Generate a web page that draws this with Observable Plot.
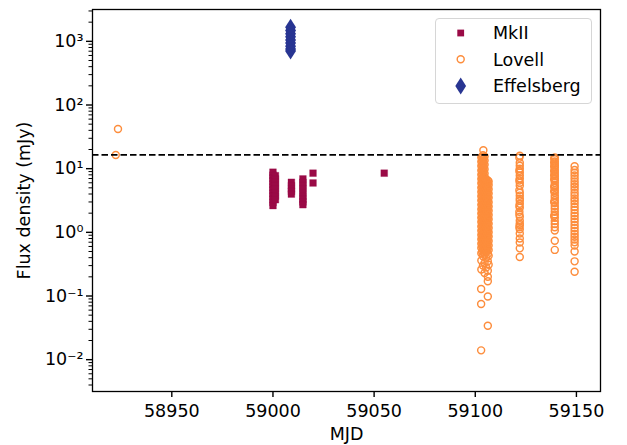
<!DOCTYPE html>
<html>
<head>
<meta charset="utf-8">
<script src="https://cdn.jsdelivr.net/npm/d3@7"></script>
<script src="https://cdn.jsdelivr.net/npm/@observablehq/plot@0.6"></script>
<style>
  body { margin: 0; background: #fff; }
  #wrap { position: relative; width: 627px; height: 445px; font-family: "DejaVu Sans", sans-serif; }
  #legend { position: absolute; left: 0; top: 0; pointer-events: none; }
</style>
</head>
<body>
<div id="wrap"></div>
<script>
// ---------------- data ----------------
const xTicks = [58950, 59000, 59050, 59100, 59150];
const yTickValues = [0.01, 0.1, 1, 10, 100, 1000];
const yTickLabels = ["10\u207B\u00B2", "10\u207B\u00B9", "10\u2070", "10\u00B9", "10\u00B2", "10\u00B3"];
const threshold = 16.5; // dashed line (mJy)

// MkII : [MJD, [flux values]]
const mkiiEpochs = [
  [59000.0, [8.8, 7.9, 7.1, 6.4, 5.7, 5.1, 4.6, 4.1, 3.7, 3.3, 2.95, 2.63]],
  [59001.2, [7.76, 6.9, 6.1, 5.4, 4.8, 4.2, 3.7, 3.26]],
  [59009.1, [6.1, 5.4, 4.8, 4.4, 3.99]],
  [59014.8, [6.9, 6.1, 5.4, 4.8, 4.2, 3.7, 3.3, 3.0, 2.72]],
  [59019.8, [8.5, 5.96]],
  [59055.0, [8.5]]
];

// Effelsberg
const effelsbergEpochs = [
  [59008.7, [1670, 1480, 1320, 1180, 1050, 940, 840, 760, 702]]
];

// Lovell
const lovell58922 = [
  [58923.4, [42]],
  [58922.3, [16.4]]
];
const lovell59103 = [
  [59102.9, [0.014, 0.075, 0.129]],
  [59103.0, [0.26, 0.36, 0.47, 0.57, 0.66, 0.78, 0.91, 1.06, 1.24, 1.45, 1.7, 1.98, 2.3, 2.7, 3.15, 3.7, 4.3, 5.0, 5.9, 6.9, 8.0, 9.4, 11.0, 12.8, 15.0]],
  [59103.4, [0.5, 0.6, 0.69, 0.8, 0.93, 1.09, 1.27, 1.48, 1.73, 2.02, 2.36, 2.76, 3.22, 3.76, 4.4, 5.15, 6.0, 7.0, 8.2, 9.6, 11.2, 13.1, 15.3]],
  [59103.8, [0.3, 0.42, 0.53, 0.62, 0.72, 0.84, 0.98, 1.15, 1.34, 1.57, 1.83, 2.14, 2.5, 2.9, 3.4, 4.0, 4.65, 5.4, 6.4, 7.4, 8.7, 10.2, 11.9, 13.9, 16.2]],
  [59104.0, [19.5]],
  [59104.2, [0.48, 0.55, 0.64, 0.75, 0.88, 1.02, 1.2, 1.4, 1.63, 1.9, 2.22, 2.6, 3.05, 3.55, 4.15, 4.85, 5.7, 6.65, 7.8, 9.1, 10.6, 12.4, 14.5]],
  [59104.6, [0.23, 0.33, 0.45, 0.51, 0.6, 0.7, 0.81, 0.95, 1.11, 1.3, 1.52, 1.77, 2.07, 2.42, 2.83, 3.3, 3.85, 4.5, 5.25, 6.15, 7.2, 8.4, 9.8, 11.5, 13.4, 15.6]],
  [59105.0, [0.52, 0.59, 0.69, 0.81, 0.94, 1.1, 1.29, 1.5, 1.76, 2.05, 2.4, 2.8, 3.28, 3.83, 4.48, 5.2, 6.1, 7.1]],
  [59105.4, [0.28, 0.4, 0.5, 0.55, 0.64, 0.75, 0.87, 1.02, 1.19, 1.39, 1.62, 1.9, 2.22, 2.6, 3.03, 3.55, 4.15, 4.85, 5.65, 6.6]],
  [59105.8, [0.5, 0.6, 0.7, 0.82, 0.96, 1.12, 1.31, 1.53, 1.79, 2.09, 2.44, 2.85, 3.33, 3.9, 4.55, 5.3, 6.2]],
  [59106.2, [0.034, 0.098, 0.17, 0.2, 0.25, 0.35, 0.46, 0.56, 0.66, 0.77, 0.9, 1.05, 1.22, 1.43, 1.67, 1.95, 2.28, 2.66, 3.1, 3.63, 4.25, 4.95, 5.8, 6.5]],
  [59106.6, [0.31, 0.43, 0.53, 0.62, 0.73, 0.86, 1.0, 1.17, 1.37, 1.6, 1.87, 2.18, 2.55, 2.98, 3.48, 4.07, 4.75, 5.55, 6.3]]
];
const lovell59122 = [
  [59122.0, [16, 12.4, 11.1, 10, 8.7, 7.8, 7.0, 6.0, 5.4, 4.2, 3.77, 3.38, 3.14, 2.82, 2.44, 1.76, 1.52, 1.36, 1.29, 1.12, 0.96, 0.8, 0.69, 0.56, 0.41]],
  [59121.8, [14.9, 9.3, 6.5, 4.6, 2.6, 2.1, 1.9, 1.2]]
];
const lovell59139 = [
  [59139.3, [15, 14, 13, 12, 11.2, 10.4, 9.6, 8.9, 8.2, 7.6, 7.0, 6.5, 6.0, 5.5, 5.0, 4.6, 4.2, 3.8, 3.5, 3.2, 2.9, 2.6, 2.35, 2.1, 1.9, 1.7, 1.5, 1.35, 1.2, 1.07, 0.74, 0.53]],
  [59139.0, [14.5, 12.5, 10.8, 9.2, 7.9, 6.8, 5.2, 4.4, 3.0, 1.8]]
];
const lovell59149 = [
  [59149.1, [10.9, 9.5, 8.6, 7.8, 7.0, 6.3, 5.7, 5.2, 4.7, 4.2, 3.8, 3.4, 3.1, 2.8, 2.5, 2.25, 2.0, 1.8, 1.62, 1.46, 1.3, 1.17, 1.05, 0.94, 0.85, 0.77, 0.7, 0.62, 0.5, 0.35, 0.24]]
];

// ---------------- build tables ----------------
const flat = (epochs) => epochs.flatMap(([mjd, vals]) => vals.map(v => ({mjd, flux: v})));
const mkii = flat(mkiiEpochs);
const effelsberg = flat(effelsbergEpochs);
const lovell = [lovell58922, lovell59103, lovell59122, lovell59139, lovell59149].flatMap(flat);

const colMkII = "#9a0a46";
const colLovell = "#fd8d3c";
const colEff = "#283592";

// custom marker shapes (matplotlib "s" and "d")
const squareSym = { draw(ctx, size) { const r = Math.sqrt(size / Math.PI); ctx.rect(-r, -r, 2 * r, 2 * r); } };
const thinDiamond = { draw(ctx, size) { const r = Math.sqrt(size / Math.PI); ctx.moveTo(0, -r); ctx.lineTo(0.64 * r, 0); ctx.lineTo(0, r); ctx.lineTo(-0.64 * r, 0); ctx.closePath(); } };

// log minor ticks
const yDomain = [Math.pow(10, -2.5), Math.pow(10, 3.5)];
const minorTicks = [];
for (let e = -3; e <= 3; e++) for (let m = 2; m <= 9; m++) {
  const v = m * Math.pow(10, e);
  if (v >= yDomain[0] && v <= yDomain[1]) minorTicks.push(v);
}

const chart = Plot.plot({
  width: 627,
  height: 445,
  marginLeft: 92,
  marginRight: 27,
  marginTop: 9,
  marginBottom: 54,
  style: { fontFamily: "DejaVu Sans", fontSize: "17.5px", color: "#000", background: "#fff" },
  x: { domain: [58910.8, 59161.9] },
  y: { type: "log", domain: yDomain },
  marks: [
    Plot.dot(mkii, { x: "mjd", y: "flux", symbol: squareSym, r: 3.4, fill: colMkII, stroke: colMkII, strokeWidth: 0.3 }),
    Plot.dot(lovell, { x: "mjd", y: "flux", symbol: "circle", r: 3.5, fill: "none", stroke: colLovell, strokeWidth: 1.45 }),
    Plot.dot(effelsberg, { x: "mjd", y: "flux", symbol: thinDiamond, r: 8.5, fill: colEff }),
    Plot.ruleY([threshold], { stroke: "#000", strokeWidth: 1.8, strokeDasharray: "6.5,3" }),
    Plot.axisX({ ticks: xTicks, tickSize: 6, tickPadding: 7, tickFormat: d => String(d), label: null, strokeWidth: 1.4 }),
    Plot.axisY({ ticks: yTickValues, tickSize: 6, tickPadding: 3, tickFormat: d => yTickLabels[yTickValues.indexOf(d)], label: null, strokeWidth: 1.4 }),
    Plot.axisY({ ticks: minorTicks, tickSize: 3.5, tickFormat: () => "", label: null, strokeWidth: 1 }),
    Plot.text(["MJD"], { frameAnchor: "bottom", dy: 48, lineAnchor: "bottom", fontSize: 17.5 }),
    Plot.text(["Flux density (mJy)"], { frameAnchor: "left", dx: -62.5, rotate: -90, lineAnchor: "bottom", textAnchor: "middle", fontSize: 17.5 }),
    Plot.frame({ stroke: "#000", strokeWidth: 1.3 })
  ]
});

const wrap = document.getElementById("wrap");
wrap.appendChild(chart);

// legend overlay
const legendItems = [
  { name: "MkII", color: colMkII, kind: "square" },
  { name: "Lovell", color: colLovell, kind: "circle" },
  { name: "Effelsberg", color: colEff, kind: "diamond" }
];
const ns = "http://www.w3.org/2000/svg";
const lg = document.createElementNS(ns, "svg");
lg.setAttribute("id", "legend");
lg.setAttribute("width", 627);
lg.setAttribute("height", 445);
const box = document.createElementNS(ns, "rect");
box.setAttribute("x", 435.5); box.setAttribute("y", 18.5);
box.setAttribute("width", 156); box.setAttribute("height", 85);
box.setAttribute("rx", 3.5);
box.setAttribute("fill", "rgba(255,255,255,0.8)");
box.setAttribute("stroke", "#d6d6d6");
lg.appendChild(box);
const rowY = [33, 59.3, 86];
legendItems.forEach((it, i) => {
  const cy = rowY[i], cx = 460.7;
  let shape;
  if (it.kind === "square") {
    shape = document.createElementNS(ns, "rect");
    shape.setAttribute("x", cx - 3.4); shape.setAttribute("y", cy - 3.4);
    shape.setAttribute("width", 6.8); shape.setAttribute("height", 6.8);
    shape.setAttribute("fill", it.color);
  } else if (it.kind === "circle") {
    shape = document.createElementNS(ns, "circle");
    shape.setAttribute("cx", cx); shape.setAttribute("cy", cy); shape.setAttribute("r", 3.5);
    shape.setAttribute("fill", "none"); shape.setAttribute("stroke", it.color); shape.setAttribute("stroke-width", 1.45);
  } else {
    shape = document.createElementNS(ns, "path");
    shape.setAttribute("d", `M${cx},${cy - 8.5}L${cx + 5.4},${cy}L${cx},${cy + 8.5}L${cx - 5.4},${cy}Z`);
    shape.setAttribute("fill", it.color);
  }
  lg.appendChild(shape);
  const t = document.createElementNS(ns, "text");
  t.setAttribute("x", 493); t.setAttribute("y", cy + 6.3);
  t.setAttribute("font-family", "DejaVu Sans"); t.setAttribute("font-size", "17.5px");
  t.setAttribute("fill", "#000");
  t.textContent = it.name;
  lg.appendChild(t);
});
wrap.appendChild(lg);
</script>
</body>
</html>
